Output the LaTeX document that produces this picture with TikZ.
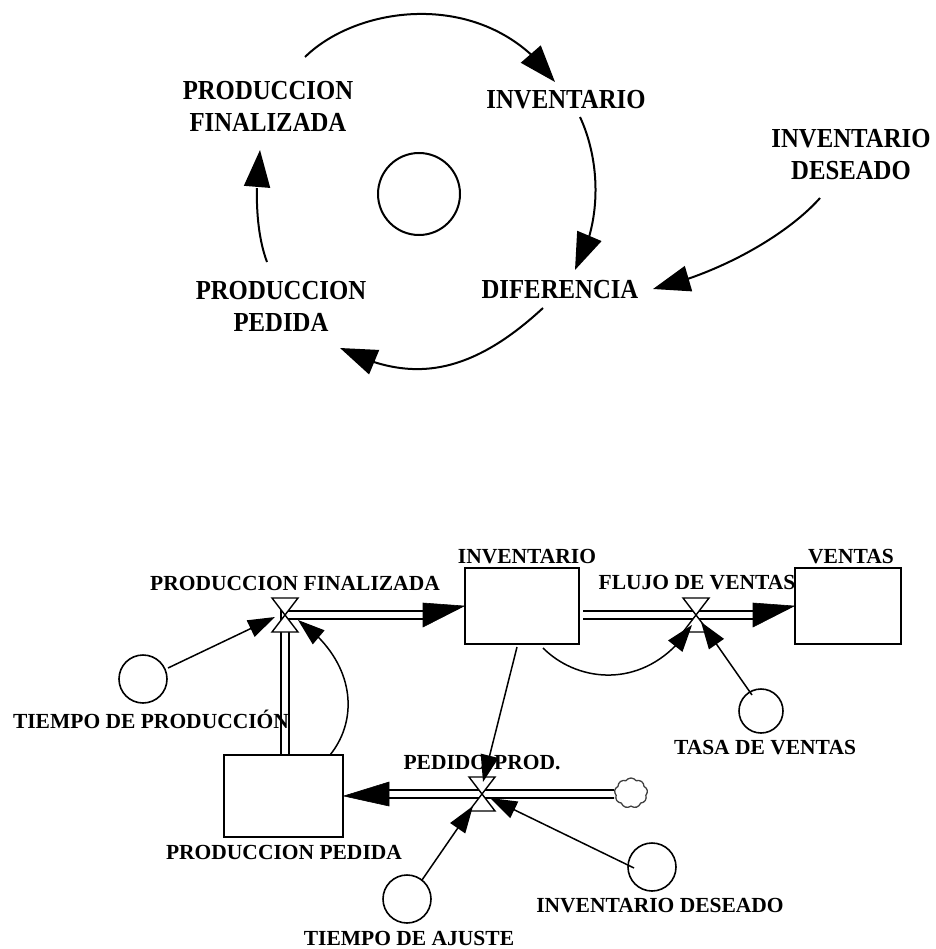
\documentclass[tikz,border=0pt]{standalone}
\usepackage{fontspec}
\setmainfont{Liberation Serif}
\newfontfamily\topfont{Liberation Serif}[FakeStretch=0.9]
\usetikzlibrary{arrows.meta,bending,shapes.symbols}
\tikzset{
  toplbl/.style={font=\topfont\bfseries\fontsize{27.5}{32}\selectfont, align=center, inner sep=0pt},
  botlbl/.style={font=\bfseries\fontsize{21.5}{24}\selectfont, inner sep=0pt},
  toparrow/.style={line width=2pt, -{Triangle[length=37pt,width=26pt]}},
  infoarrow/.style={line width=1.5pt, -{Triangle[length=27pt,width=18pt]}},
  stock/.style={draw, line width=1.6pt, inner sep=0pt},
  aux/.style={draw, circle, line width=1.6pt, inner sep=0pt, minimum size=48pt},
  pipeline/.style={line width=1.6pt},
  pipehead/.style={fill=black, draw=black, line width=0.6pt},
  valveshape/.style={draw, fill=white, line width=1.4pt}
}
\begin{document}
\begin{tikzpicture}[x=1pt,y=-1pt]
\useasboundingbox (0,0) rectangle (935,949);

% ---------- causal loop diagram ----------
\node[toplbl] (pf)   at (268,106) {PRODUCCION\\FINALIZADA};
\node[toplbl] (inv)  at (566,100) {INVENTARIO};
\node[toplbl] (dif)  at (560,290) {DIFERENCIA};
\node[toplbl] (pp)   at (281,306) {PRODUCCION\\PEDIDA};
\node[toplbl] (ides) at (851,155) {INVENTARIO\\DESEADO};
\node[draw, circle, line width=2pt, minimum size=82pt, inner sep=0pt] (loop) at (419,194) {};

\coordinate (a1s) at (305,57);  \coordinate (a1e) at (555,82);
\coordinate (a2s) at (580,117); \coordinate (a2e) at (575,270);
\coordinate (a3s) at (543,308); \coordinate (a3e) at (340,348);
\coordinate (a4s) at (267,262); \coordinate (a4e) at (260,150);
\coordinate (a5s) at (820,198); \coordinate (a5e) at (653,289);

\draw[toparrow] (a1s) .. controls (360,3) and (490,-12) .. (a1e);
\draw[toparrow] (a2s) .. controls (600,160) and (603,222) .. (a2e);
\draw[toparrow] (a3s) .. controls (460,385) and (400,378) .. (a3e);
\draw[toparrow] (a4s) .. controls (255,230) and (255,185) .. (a4e);
\draw[toparrow] (a5s) .. controls (790,232) and (725,272) .. (a5e);

% ---------- stock and flow diagram ----------
% labels
\node[botlbl] (lINV) at (527,557) {INVENTARIO};
\node[botlbl] (lVEN) at (851,557) {VENTAS};
\node[botlbl] (lPF)  at (295,583) {PRODUCCION FINALIZADA};
\node[botlbl] (lFV)  at (697,583) {FLUJO DE VENTAS};
\node[botlbl] (lTP)  at (151,719) {TIEMPO DE PRODUCCIÓN};
\node[botlbl] (lTV)  at (765,748) {TASA DE VENTAS};
\node[botlbl] (lPP)  at (284,852) {PRODUCCION PEDIDA};
\node[botlbl] (lPED) at (482,763) {PEDIDO\hspace{7pt}PROD.};
\node[botlbl] (lID)  at (660,906) {INVENTARIO DESEADO};
\node[botlbl] (lTA)  at (409,938) {TIEMPO DE AJUSTE};

% stocks
\node[stock, minimum width=114pt, minimum height=76pt] (sinv) at (522,606) {};
\node[stock, minimum width=106pt, minimum height=76pt] (sven) at (848,606) {};
\node[stock, minimum width=119pt, minimum height=82pt] (spp)  at (283.5,796) {};

% auxiliaries
\node[aux] (ctp) at (143,679) {};
\node[aux, minimum size=44pt] (ctv) at (761,711) {};
\node[aux] (cta) at (407,899) {};
\node[aux] (cid) at (652,867) {};

% cloud
\node[cloud, draw=black!75, line width=1.3pt, cloud puffs=9, cloud puff arc=110,
      minimum width=33pt, minimum height=30pt, inner sep=0pt] (cl) at (631,793) {};

% valve centres
\coordinate (v1) at (285,615);
\coordinate (v2) at (696,615);
\coordinate (v3) at (482,794);

% pipe 1: PRODUCCION PEDIDA -> INVENTARIO
\draw[pipeline] (281,755) -- (281,611) -- (423,611);
\draw[pipeline] (289,755) -- (289,619) -- (423,619);
\draw[pipehead] (423,603) -- (sinv.west) -- (423,627) -- cycle;
% pipe 2: INVENTARIO -> VENTAS
\draw[pipeline] (583,611) -- (753,611);
\draw[pipeline] (583,619) -- (753,619);
\draw[pipehead] (753,603) -- (sven.west) -- (753,627) -- cycle;
% pipe 3: cloud -> PRODUCCION PEDIDA
\draw[pipeline] (cl.west) ++(0,-3) -- (389,790);
\draw[pipeline] (cl.west) ++(0,5) -- (389,798);
\draw[pipehead] (389,782) -- (spp.east) -- (389,806) -- cycle;

% valves
\foreach \v in {v1,v2,v3}{
  \draw[valveshape, shift={(\v)}] (-13,-17) -- (13,-17) -- (0,0) -- cycle;
  \draw[valveshape, shift={(\v)}] (-13,17) -- (13,17) -- (0,0) -- cycle;
}

% information links
\coordinate (i1s) at (168,668);  \coordinate (i1e) at (275,617);
\coordinate (i2s) at (330,755);  \coordinate (i2e) at (298,620);
\coordinate (i3s) at (543,648);  \coordinate (i3e) at (692,625);
\coordinate (i4s) at (752,695);  \coordinate (i4e) at (701,622);
\coordinate (i5s) at (517,647);  \coordinate (i5e) at (483,782);
\coordinate (i6s) at (422,880);  \coordinate (i6e) at (473,806);
\coordinate (i7s) at (634,868);  \coordinate (i7e) at (490,798);

\draw[infoarrow] (i1s) -- (i1e);
\draw[infoarrow] (i2s) .. controls (360,718) and (355,660) .. (i2e);
\draw[infoarrow] (i3s) .. controls (580,685) and (650,690) .. (i3e);
\draw[infoarrow] (i4s) -- (i4e);
\draw[infoarrow] (i5s) -- (i5e);
\draw[infoarrow] (i6s) -- (i6e);
\draw[infoarrow] (i7s) -- (i7e);
\end{tikzpicture}
\end{document}
